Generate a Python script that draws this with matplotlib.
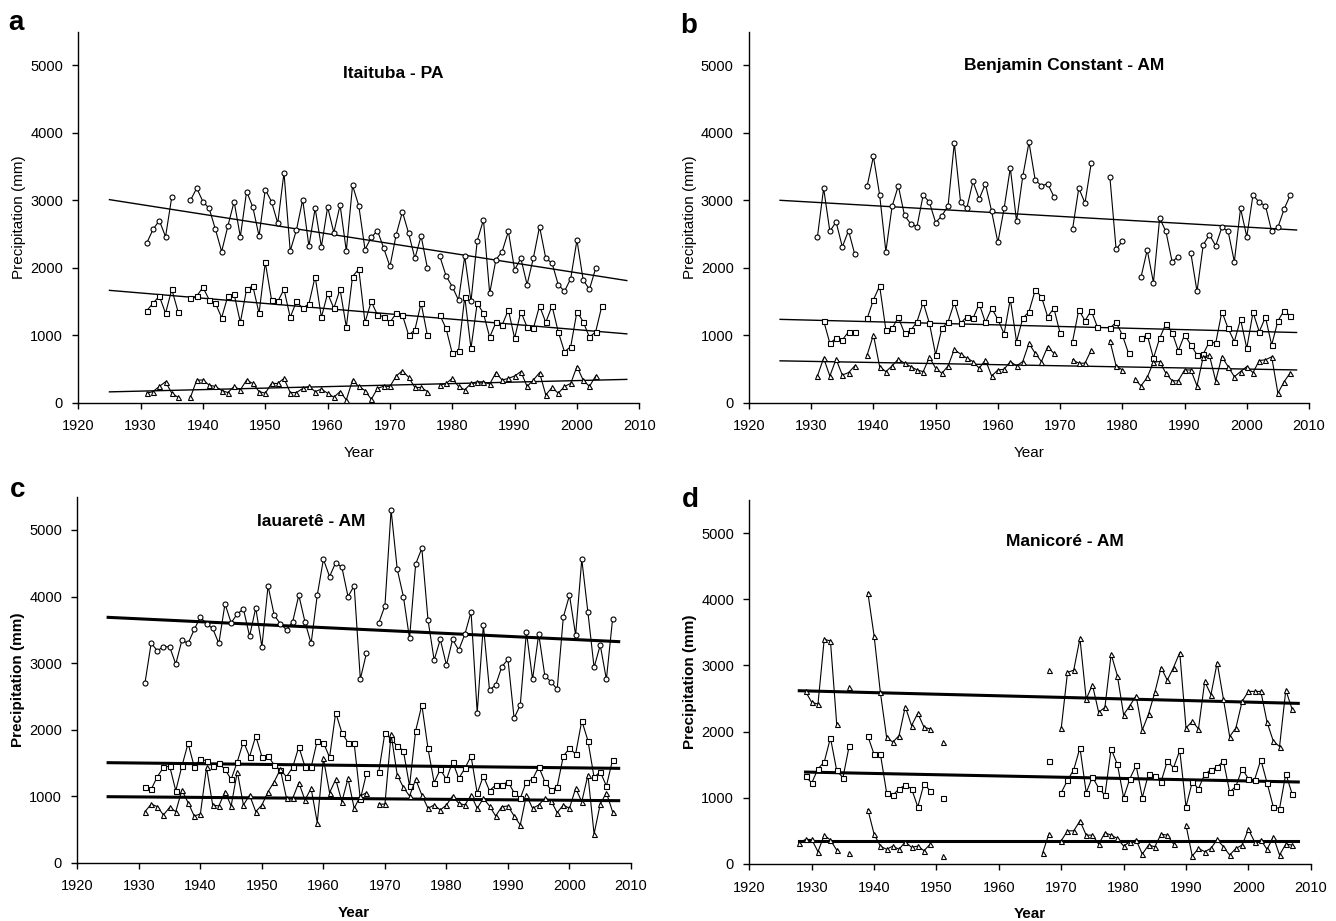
import matplotlib
matplotlib.use('Agg')
import numpy as np
import matplotlib.pyplot as plt

N = None

# ---- a: Itaituba - PA (1931-2004)
years_a = list(range(1931, 2005))
circ_a = [2370, 2570, 2700, 2460, 3050, N, N, 3000, 3180, 2980,
          2880, 2570, 2240, 2620, 2980, 2460, 3130, 2900, 2470, 3160,
          2980, 2660, 3410, 2250, 2560, 3010, 2320, 2880, 2310, 2900,
          2520, 2930, 2250, 3220, 2920, 2270, 2450, 2550, 2290, 2020,
          2490, 2830, 2510, 2140, 2470, 2000, N, 2170, 1880, 1720,
          1520, 2170, 1500, 2400, 2710, 1620, 2120, 2240, 2540, 1970,
          2140, 1750, 2140, 2610, 2140, 2070, 1750, 1650, 1840, 2410,
          1820, 1680, 1990, N]
sq_a = [1365, 1475, 1580, 1325, 1680, 1350, N, 1550, 1580, 1710,
        1525, 1475, 1260, 1580, 1610, 1190, 1680, 1730, 1325, 2080,
        1525, 1500, 1680, 1265, 1500, 1400, 1465, 1870, 1265, 1620,
        1400, 1680, 1120, 1870, 1980, 1190, 1500, 1300, 1275, 1190,
        1325, 1300, 1000, 1080, 1475, 1000, N, 1300, 1100, 730,
        770, 1570, 805, 1475, 1325, 970, 1190, 1150, 1375, 955,
        1350, 1120, 1100, 1435, 1190, 1435, 1050, 755, 830, 1350,
        1200, 970, 1050, 1435]
tri_a = [140, 165, 240, 310, 140, 80, N, 80, 335, 335,
         260, 240, 180, 150, 240, 190, 335, 285, 165, 140,
         285, 285, 360, 150, 150, 210, 240, 165, 200, 140,
         80, 165, 40, 335, 240, 180, 50, 210, 245, 240,
         395, 475, 375, 225, 225, 165, N, 260, 285, 360,
         240, 190, 285, 310, 310, 275, 445, 335, 360, 395,
         460, 240, 335, 445, 115, 225, 140, 240, 285, 535,
         335, 240, 395, N]
trend_a = [((1925, 2008), (3010, 1810)), ((1925, 2008), (1665, 1020)), ((1925, 2008), (160, 345))]

# ---- b: Benjamin Constant - AM (1931-2007)
years_b = list(range(1931, 2008))
circ_b = [2455, 3180, 2540, 2680, 2310, 2550, 2200, N, 3215, 3650,
          3080, 2240, 2910, 3215, 2775, 2650, 2610, 3080, 2970, 2670,
          2770, 2920, 3850, 2980, 2880, 3280, 3020, 3245, 2835, 2375,
          2880, 3480, 2690, 3355, 3860, 3300, 3215, 3245, 3055, N,
          N, 2570, 3180, 2960, 3550, N, N, 3345, 2275, 2390,
          N, N, 1860, 2265, 1780, 2735, 2540, 2090, 2165, N,
          2225, 1650, 2340, 2490, 2325, 2600, 2540, 2090, 2880, 2460,
          3080, 2970, 2920, 2540, 2600, 2870, 3080]
sq_b = [N, 1215, 880, 955, 930, 1050, 1050, N, 1250, 1525,
        1730, 1080, 1100, 1265, 1030, 1070, 1200, 1485, 1175, 710,
        1100, 1200, 1485, 1175, 1275, 1250, 1465, 1190, 1400, 1235,
        1020, 1535, 905, 1250, 1350, 1670, 1570, 1275, 1400, 1030,
        N, 905, 1375, 1215, 1365, 1120, N, 1105, 1190, 1005,
        730, N, 955, 1005, 660, 955, 1170, 1040, 770, 1005,
        860, 707, 720, 905, 880, 1350, 1100, 905, 1236, 806,
        1340, 1053, 1266, 855, 1212, 1365, 1285]
tri_b = [395, 660, 395, 645, 410, 445, 545, N, 710, 1005,
         535, 460, 545, 645, 585, 535, 485, 460, 675, 510,
         435, 545, 790, 720, 660, 610, 510, 635, 395, 485,
         495, 610, 545, 610, 880, 730, 610, 830, 730, N,
         N, 635, 585, 585, 780, N, N, 920, 545, 485,
         N, 346, 250, 375, 600, 610, 435, 325, 325, 485,
         485, 250, 680, 700, 325, 680, 535, 385, 460, 535,
         445, 625, 635, 680, 140, 310, 445]
trend_b = [((1925, 2008), (3000, 2560)), ((1925, 2008), (1235, 1040)), ((1925, 2008), (620, 485))]

# ---- c: Iauaretê - AM (1931-2007)
years_c = list(range(1931, 2008))
circ_c = [2705, 3300, 3185, 3245, 3245, 2985, 3345, 3295, 3505, 3690,
          3590, 3520, 3295, 3890, 3605, 3740, 3810, 3405, 3830, 3245,
          4160, 3720, 3590, 3500, 3620, 4020, 3620, 3295, 4020, 4560,
          4300, 4510, 4440, 4000, 4160, 2760, 3150, N, 3605, 3860,
          5300, 4410, 4000, 3370, 4490, 4725, 3650, 3045, 3355, 2970,
          3355, 3195, 3435, 3770, 2255, 3570, 2595, 2670, 2945, 3055,
          2170, 2370, 3470, 2755, 3435, 2805, 2720, 2605, 3690, 4020,
          3420, 4560, 3760, 2935, 3270, 2755, 3655]
sq_c = [1142, 1102, 1292, 1433, 1453, 1082, 1453, 1794, 1443, 1553,
        1533, 1453, 1493, 1403, 1252, 1518, 1819, 1593, 1904, 1593,
        1603, 1468, 1393, 1292, 1433, 1744, 1443, 1433, 1834, 1804,
        1583, 2254, 1954, 1804, 1794, 952, 1343, N, 1368, 1954,
        1854, 1754, 1683, 1152, 1984, 2370, 1718, 1203, 1403, 1252,
        1518, 1267, 1418, 1603, 1042, 1302, 1082, 1167, 1167, 1217,
        1052, 967, 1217, 1252, 1443, 1217, 1092, 1142, 1603, 1718,
        1633, 2134, 1834, 1282, 1368, 1152, 1543]
tri_c = [767, 882, 842, 717, 832, 767, 1092, 902, 702, 732,
         1433, 867, 852, 1067, 852, 1368, 867, 1017, 767, 867,
         1067, 1217, 1403, 967, 967, 1203, 942, 1117, 602, 1568,
         1052, 1252, 917, 1267, 817, 1002, 1052, N, 880, 880,
         1930, 1318, 1132, 1002, 1252, 1017, 817, 867, 792, 867,
         1002, 892, 867, 1017, 817, 967, 852, 702, 842, 852,
         702, 567, 1017, 817, 867, 967, 932, 752, 867, 817,
         1117, 917, 1318, 432, 882, 1052, 767]
trend_c = [((1925, 2008), (3687, 3322)), ((1925, 2008), (1503, 1418)), ((1925, 2008), (992, 932))]

# ---- d: Manicoré - AM (1928-2007)
years_d = list(range(1928, 2008))
top_d = [N, 2608, 2442, 2417, 3395, 3370, 2116, N, 2678, N,
         N, 4097, 3445, 2593, 1916, 1841, 1941, 2377, 2091, 2277,
         2066, 2041, N, 1841, N, N, N, N, N, N,
         N, N, N, N, N, N, N, N, N, N,
         2929, N, 2051, 2894, 2929, 3410, 2492, 2708, 2292, 2367,
         3170, 2844, 2257, 2392, 2543, 2026, 2267, 2593, 2969, 2778,
         2969, 3195, 2056, 2156, 2041, 2758, 2558, 3044, 2492, 1926,
         2056, 2457, 2608, 2608, 2608, 2141, 1856, 1775, 2628, 2342]
sq_d = [N, 1324, 1224, 1439, 1540, 1906, 1414, 1304, 1780, N,
        N, 1931, 1655, 1665, 1078, 1038, 1138, 1189, 1138, 863,
        1214, 1103, N, 1003, N, N, N, N, N, N,
        N, N, N, N, N, N, N, N, N, N,
        1555, N, 1078, 1264, 1424, 1755, 1078, 1314, 1148, 1038,
        1740, 1505, 1003, 1289, 1489, 1003, 1364, 1324, 1239, 1555,
        1454, 1715, 863, 1239, 1138, 1354, 1424, 1464, 1555, 1088,
        1173, 1439, 1289, 1274, 1575, 1224, 863, 838, 1364, 1063]
bot_d = [321, 371, 371, 186, 436, 361, 211, N, 160, N,
         N, 822, 451, 271, 221, 271, 221, 336, 251, 271,
         201, 301, N, 120, N, N, N, N, N, N,
         N, N, N, N, N, N, N, N, N, 160,
         451, N, 351, 501, 501, 652, 436, 436, 301, 471,
         436, 386, 271, 336, 361, 150, 286, 261, 451, 436,
         301, N, 587, 120, 236, 186, 236, 371, 261, 135,
         236, 286, 522, 336, 361, 221, 411, 135, 301, 286]
trend_d = [((1928, 2008), (2618, 2427)), ((1929, 2008), (1389, 1239)), ((1928, 2008), (346, 346))]

panels = [
    # letter, title, years, series, markers, trends, trend width, bold labels, axes rect, title pos
    ('a', 'Itaituba - PA', years_a, [circ_a, sq_a, tri_a], ['o', 's', '^'], trend_a, 1.0, False,
     [0.0586, 0.5628, 0.4199, 0.4028], (0.561, 0.886)),
    ('b', 'Benjamin Constant - AM', years_b, [circ_b, sq_b, tri_b], ['o', 's', '^'], trend_b, 1.0, False,
     [0.5606, 0.5628, 0.4192, 0.4028], (0.562, 0.908)),
    ('c', 'Iauaretê - AM', years_c, [circ_c, sq_c, tri_c], ['o', 's', '^'], trend_c, 2.2, True,
     [0.0579, 0.0633, 0.4144, 0.3974], (0.422, 0.932)),
    ('d', 'Manicoré - AM', years_d, [top_d, sq_d, bot_d], ['^', 's', '^'], trend_d, 2.2, True,
     [0.5609, 0.0619, 0.4202, 0.3952], (0.562, 0.885)),
]
letter_pos = {'a': (8, 30), 'b': (680, 33), 'c': (10, 497), 'd': (682, 507)}

plt.rcParams['font.family'] = ['Liberation Sans', 'DejaVu Sans']

fig = plt.figure(figsize=(13.36, 9.21), dpi=100)

for letter, title, years, series, markers, trends, tw, bold, rect, tpos in panels:
    ax = fig.add_axes(rect)
    x = np.array(years)
    for vals, m in zip(series, markers):
        y = np.array([np.nan if v is None else v for v in vals], dtype=float)
        ax.plot(x, y, color='black', linewidth=0.8, marker=m, markersize=3.6,
                markerfacecolor='white', markeredgecolor='black', markeredgewidth=0.8, zorder=3)
    for tx, ty in trends:
        ax.plot(tx, ty, color='black', linewidth=tw, zorder=2)
    ax.set_xlim(1920, 2010)
    ax.set_ylim(0, 5500)
    ax.set_xticks(np.arange(1920, 2011, 10))
    ax.set_yticks(np.arange(0, 5001, 1000))
    for s in ['top', 'right']:
        ax.spines[s].set_visible(False)
    for s in ['left', 'bottom']:
        ax.spines[s].set_linewidth(1.0)
    ax.tick_params(direction='out', length=4, width=1.0, labelsize=10.5)
    ax.tick_params(axis='x', pad=8)
    ax.tick_params(axis='y', pad=7)
    w = 'bold' if bold else 'normal'
    ax.set_ylabel('Precipitation (mm)', fontsize=11, fontweight=w, labelpad=3)
    ax.set_xlabel('Year', fontsize=11, fontweight=w, labelpad=9)
    ax.text(tpos[0], tpos[1], title, transform=ax.transAxes, ha='center', va='center',
            fontsize=12.5, fontweight='bold')
    lx, ly = letter_pos[letter]
    fig.text(lx / 1336, 1 - ly / 921, letter, fontsize=20, fontweight='bold', va='baseline')

plt.savefig('out.png', dpi=100)
